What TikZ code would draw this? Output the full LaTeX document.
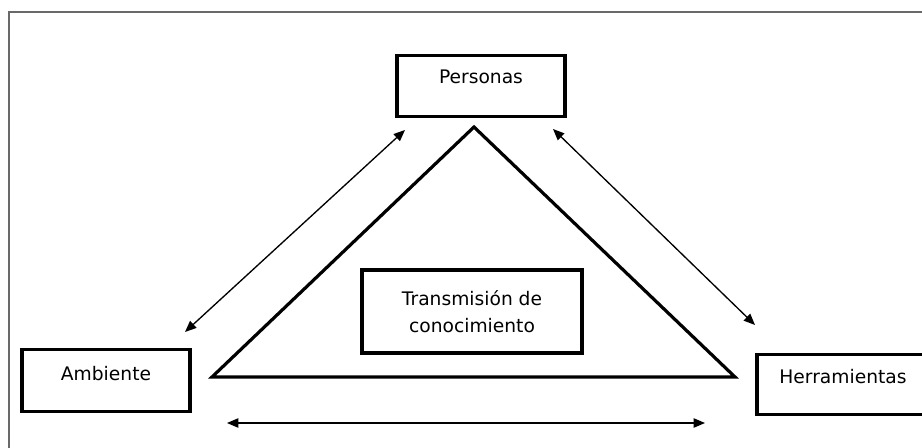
\documentclass[tikz,border=0pt]{standalone}
\usepackage{fontspec}
\setmainfont{DejaVu Sans}
\usetikzlibrary{arrows.meta}
\definecolor{framegray}{RGB}{105,105,105}

\begin{document}
\begin{tikzpicture}[x=0.75pt,y=-0.75pt,
  caja/.style={draw,line width=2.4pt,inner sep=0pt,align=center,font=\fontsize{14}{20.25}\selectfont},
  flecha/.style={line width=1pt,{Triangle[length=8.5pt,width=7pt]}-{Triangle[length=8.5pt,width=7pt]}}]
\clip (0,0) rectangle (922,448);
% Outer frame (cut at right and bottom)
\draw[framegray,line width=1.1pt] (9,12) rectangle (935,460);

% The three corners
\node[caja,anchor=north,minimum width=126pt,text height=21pt,text depth=24.75pt] (personas) at (481,54) {Personas};
\node[caja,anchor=north,minimum width=126pt,text height=23.25pt,text depth=23.25pt] (ambiente) at (106,348) {Ambiente};
\node[caja,anchor=north,minimum width=129pt,text height=21.75pt,text depth=23.25pt] (herramientas) at (843,353) {Herramientas};

% Triangle with the centre box
\coordinate (cima) at (474,127);
\coordinate (izq) at (212,377);
\coordinate (der) at (735,377);
\draw[line width=2.4pt] (cima) -- (izq) -- (der) -- cycle;
\node[caja,minimum width=165pt,minimum height=62.25pt] (transmision) at (472,311.5) {Transmisión de\\conocimiento};

% Double arrows between the corners
\coordinate (pa1) at (185,332);
\coordinate (pa2) at (405,130);
\coordinate (ph1) at (553,129);
\coordinate (ph2) at (755,325);
\coordinate (ah1) at (227,423);
\coordinate (ah2) at (705,423);
\draw[flecha] (pa1) -- (pa2);
\draw[flecha] (ph1) -- (ph2);
\draw[flecha] (ah1) -- (ah2);
\end{tikzpicture}
\end{document}
